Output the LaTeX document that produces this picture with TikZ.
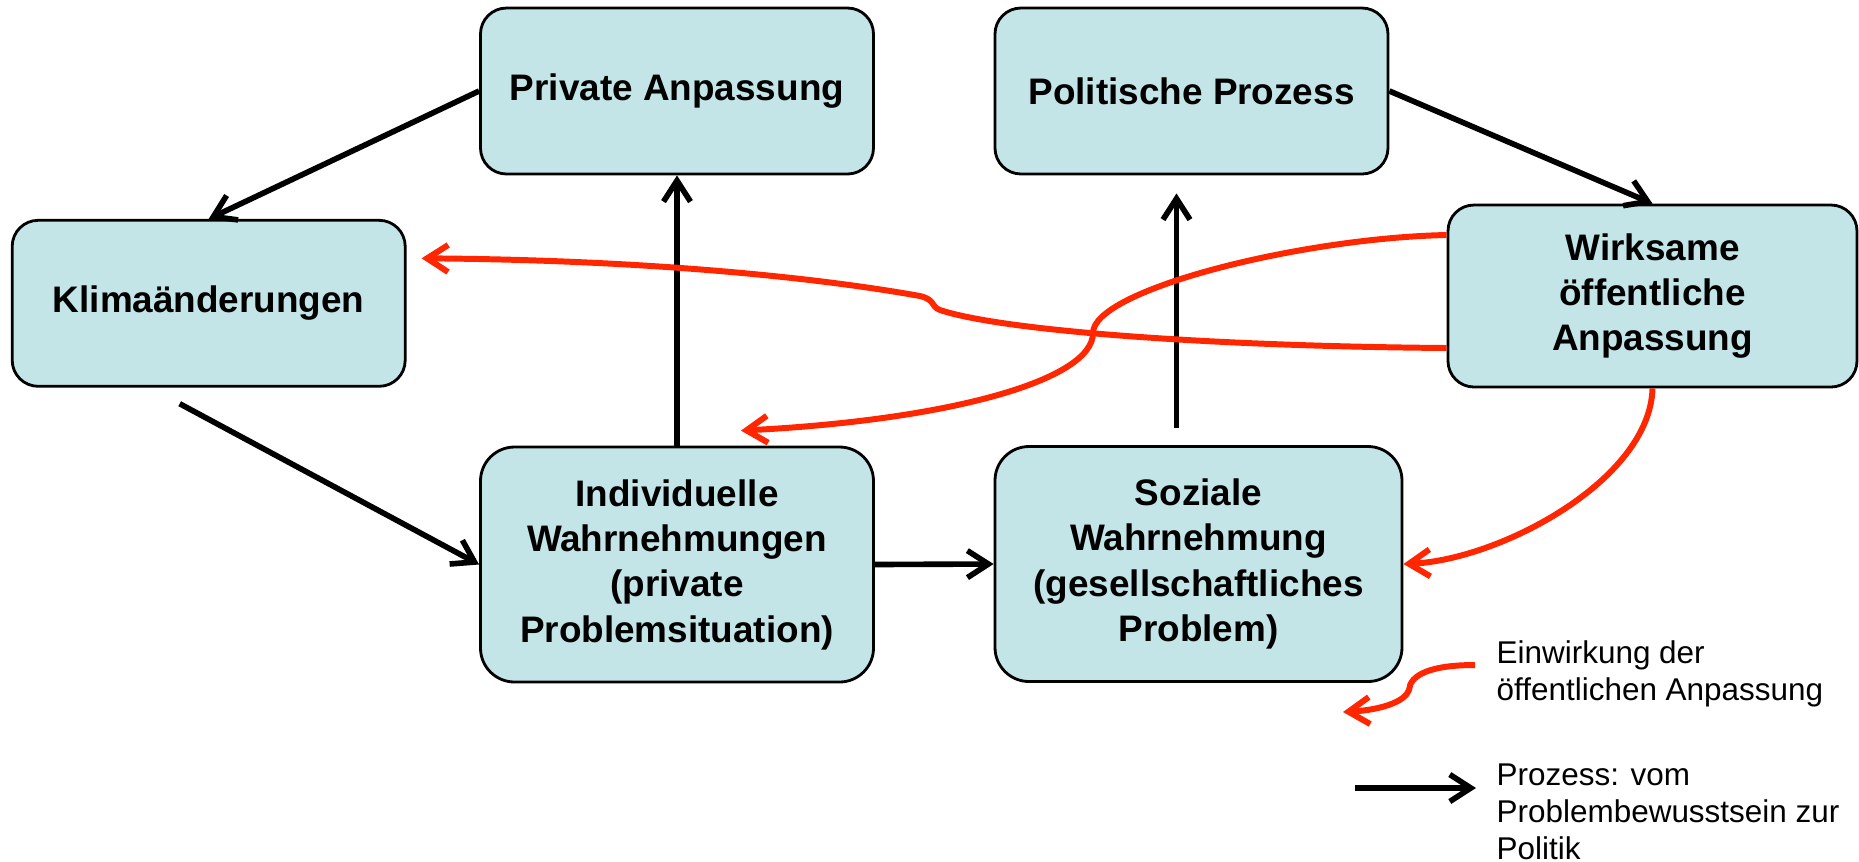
\documentclass[tikz,border=0pt]{standalone}
\usepackage{fontspec}
\setmainfont{Liberation Sans}
\usetikzlibrary{positioning, arrows.meta, calc}

\definecolor{boxcyan}{RGB}{196,229,231}
\definecolor{effectred}{RGB}{255,38,0}

\begin{document}
\begin{tikzpicture}[x=0.1mm, y=-0.1mm,
    box/.style={draw=black, line width=0.8pt, fill=boxcyan, rounded corners=2.6mm,
                align=center, inner sep=0pt, minimum width=39.3mm, minimum height=16.6mm,
                font=\fontsize{10.5}{12.9}\selectfont\bfseries},
    tallbox/.style={box, rounded corners=3.4mm, minimum height=23.5mm},
    process/.style={line width=1.6pt, -{Straight Barb[length=2.1mm, width=2.7mm]}},
    effect/.style={draw=effectred, line width=1.7pt, -{Straight Barb[length=2.1mm, width=2.7mm]}},
    legend/.style={align=left, inner sep=0pt, anchor=west,
                   font=\fontsize{8.95}{10.5}\selectfont}]
  \useasboundingbox (0,0) rectangle (1859,861);

  \node[box] (priv) at (677,91) {Private Anpassung};
  \node[box] (polit) at (1191.5,91) {Politische Prozess};
  \node[box] (klima) at (208.7,303.3) {Klimaänderungen};
  \node[box, minimum width=40.9mm, minimum height=18.2mm] (wirk) at (1652.5,296)
    {Wirksame\\öffentliche\\Anpassung};
  \node[tallbox] (indiv) at (677,564.5)
    {Individuelle\\Wahrnehmungen\\(private\\Problemsituation)};
  \node[tallbox, minimum width=40.7mm] (sozial) at (1198.5,564)
    {Soziale\\Wahrnehmung\\(gesellschaftliches\\Problem)};

  % Prozesskette
  \draw[process] (priv.west) -- (klima.north);
  \draw[process] ([shift={(-29,16)}]klima.south) -- (indiv.west);
  \draw[process] (indiv.north) -- (priv.south);
  \draw[process] (indiv.east) -- (sozial.west);
  \draw[process] ([shift={(-22,-17)}]sozial.north) -- ([shift={(-15,18)}]polit.south);
  \draw[process] (polit.east) -- (wirk.north);

  % Einwirkungen
  \draw[effect] ([shift={(0,52)}]wirk.west)
    .. controls (1200,346) and (1000,330) .. (940,310)
    .. controls (930,306) and (936,300) .. (920,296)
    .. controls (820,278) and (650,260) .. ([shift={(15,-45)}]klima.east);
  \draw[effect] ([shift={(0,-61)}]wirk.west)
    .. controls (1300,238) and (1093,290) .. (1093,333)
    .. controls (1093,380) and (950,420) .. ([shift={(64,-15)}]indiv.north);
  \draw[effect] (wirk.south) .. controls (1650,480) and (1500,560) .. (sozial.east);

  % Legende
  \node[legend] (legeffect) at (1496,674) {Einwirkung der\\öffentlichen Anpassung};
  \node[legend] (legprocess) at (1496,812) {Prozess: vom\\Problembewusstsein zur\\Politik};
  \coordinate (effstart) at (1475,665);
  \coordinate (effend) at (1343,712);
  \coordinate (procstart) at (1355,788);
  \coordinate (procend) at (1476,788);
  \draw[effect] (effstart) .. controls (1430,665) and (1410,675) .. (1409,690)
    .. controls (1405,702) and (1380,710) .. (effend);
  \draw[process] (procstart) -- (procend);
\end{tikzpicture}
\end{document}
